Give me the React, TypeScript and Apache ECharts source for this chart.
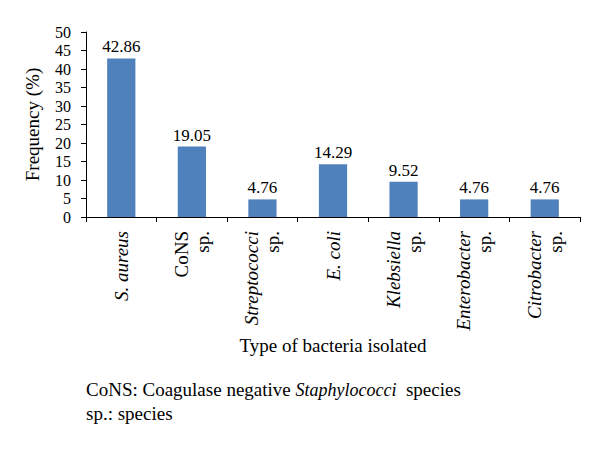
import React, { useEffect, useRef } from "react";
import * as echarts from "echarts";

const categories = ["S. aureus", "CoNS sp.", "Streptococci sp.", "E. coli", "Klebsiella sp.", "Enterobacter sp.", "Citrobacter sp."];
const categoryLabels = [
  "{i|S. aureus}",
  "{n|CoNS}\n{n|sp.}",
  "{i|Streptococci}\n{n|sp.}",
  "{i|E. coli}",
  "{i|Klebsiella}\n{n|sp.}",
  "{i|Enterobacter}\n{n|sp.}",
  "{i|Citrobacter}\n{n|sp.}",
];
const frequencies = [42.86, 19.05, 4.76, 14.29, 9.52, 4.76, 4.76];
const yTicks = { min: 0, max: 50, interval: 5 };

const FONT = "Liberation Serif";

export default function App() {
  const ref = useRef<HTMLDivElement>(null);
  useEffect(() => {
    if (!ref.current) return;
    const chart = echarts.init(ref.current, undefined, { renderer: "svg" });
    chart.setOption({
      animation: false,
      backgroundColor: "#fff",
      textStyle: { fontFamily: FONT, color: "#000" },
      grid: { left: 86, right: 20, top: 32, bottom: 232, containLabel: false },
      xAxis: {
        type: "category",
        data: categories,
        name: "Type of bacteria isolated",
        nameLocation: "middle",
        nameGap: 119,
        nameTextStyle: { fontFamily: FONT, fontSize: 19, color: "#000" },
        axisLine: { lineStyle: { color: "#000", width: 1 } },
        axisTick: { show: true, length: 5, alignWithLabel: false, lineStyle: { color: "#000" } },
        axisLabel: {
          interval: 0,
          rotate: 90,
          margin: 14,
          fontFamily: FONT,
          fontSize: 19,
          color: "#000",
          lineHeight: 21,
          formatter: (_v: string, idx: number) => categoryLabels[idx],
          rich: {
            i: { fontFamily: FONT, fontSize: 19, fontStyle: "italic", color: "#000", lineHeight: 21 },
            n: { fontFamily: FONT, fontSize: 19, color: "#000", lineHeight: 21 },
          },
        },
        splitLine: { show: false },
      },
      yAxis: {
        type: "value",
        min: yTicks.min,
        max: yTicks.max,
        interval: yTicks.interval,
        name: "Frequency (%)",
        nameLocation: "middle",
        nameRotate: 90,
        nameGap: 44,
        nameTextStyle: { fontFamily: FONT, fontSize: 19, color: "#000" },
        axisLine: { show: true, lineStyle: { color: "#000", width: 1 } },
        axisTick: { show: true, length: 5, lineStyle: { color: "#000" } },
        axisLabel: { fontFamily: FONT, fontSize: 16, color: "#000", margin: 15 },
        splitLine: { show: false },
      },
      series: [
        {
          type: "bar",
          data: frequencies,
          barWidth: "40%",
          itemStyle: { color: "#4F81BD" },
          label: {
            show: true,
            position: "top",
            distance: 3,
            fontFamily: FONT,
            fontSize: 17,
            color: "#000",
            formatter: (p: any) => p.value.toFixed(2),
          },
        },
      ],
      graphic: [
        {
          type: "text",
          left: 86,
          top: 380,
          style: {
            text: "CoNS: Coagulase negative {i|Staphylococci}  species",
            fontFamily: FONT,
            fontSize: 19,
            fill: "#000",
            rich: {
              i: { fontFamily: FONT, fontSize: 18, fontStyle: "italic", fill: "#000" },
            },
          },
        },
        {
          type: "text",
          left: 86,
          top: 404,
          style: {
            text: "sp.: species",
            fontFamily: FONT,
            fontSize: 19,
            fill: "#000",
          },
        },
      ],
    });
    return () => chart.dispose();
  }, []);
  return <div ref={ref} style={{ width: 600, height: 449, position: "absolute", left: 0, top: 0 }} />;
}
